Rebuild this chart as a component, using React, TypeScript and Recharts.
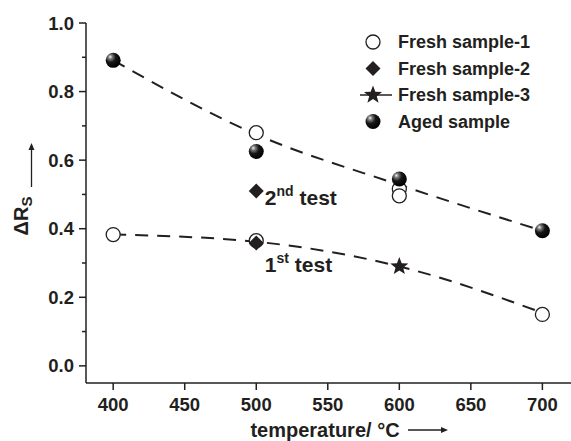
import React from 'react';
import { ComposedChart, Scatter, Line, XAxis, YAxis, Legend, ReferenceDot, Customized } from 'recharts';

// ---- data ----
const xTicks = [400, 450, 500, 550, 600, 650, 700];
const yTicks = [0, 0.1, 0.2, 0.3, 0.4, 0.5, 0.6, 0.7, 0.8, 0.9, 1.0];

const fresh1 = [
  { x: 400, y: 0.383 },
  { x: 500, y: 0.68 },
  { x: 500, y: 0.365 },
  { x: 600, y: 0.516 },
  { x: 600, y: 0.496 },
  { x: 700, y: 0.15 },
];
const fresh2 = [
  { x: 500, y: 0.51 },
  { x: 500, y: 0.358 },
];
const fresh3 = [{ x: 600, y: 0.29 }];
const aged = [
  { x: 400, y: 0.891 },
  { x: 500, y: 0.625 },
  { x: 600, y: 0.545 },
  { x: 700, y: 0.394 },
];
const trendAged = [
  { x: 400, y: 0.891 },
  { x: 500, y: 0.675 },
  { x: 600, y: 0.528 },
  { x: 700, y: 0.394 },
];
const trendFresh = [
  { x: 400, y: 0.383 },
  { x: 500, y: 0.362 },
  { x: 600, y: 0.29 },
  { x: 700, y: 0.155 },
];
const legendItems = ['Fresh sample-1', 'Fresh sample-2', 'Fresh sample-3', 'Aged sample'];
const annot2 = { x: 506, y: 0.47, main: '2', sup: 'nd', rest: ' test' };
const annot1 = { x: 506, y: 0.275, main: '1', sup: 'st', rest: ' test' };

const FONT = '"Liberation Sans", Arial, Helvetica, sans-serif';
const INK = '#231f20';

// ---- shapes ----
const OpenCircle = (p: any) => (
  <circle cx={p.cx} cy={p.cy} r={7} fill="#fff" stroke={INK} strokeWidth={1.3} />
);
const Diamond = (p: any) => {
  const { cx, cy } = p;
  const s = 7.5;
  return <polygon points={`${cx},${cy - s} ${cx + s},${cy} ${cx},${cy + s} ${cx - s},${cy}`} fill={INK} />;
};
const starPoints = (cx: number, cy: number, R: number, r: number) => {
  const pts: string[] = [];
  for (let i = 0; i < 10; i++) {
    const ang = -Math.PI / 2 + (i * Math.PI) / 5;
    const rad = i % 2 === 0 ? R : r;
    pts.push(`${cx + rad * Math.cos(ang)},${cy + rad * Math.sin(ang)}`);
  }
  return pts.join(' ');
};
const Star = (p: any) => <polygon points={starPoints(p.cx, p.cy, 9.5, 4)} fill={INK} />;
const SphereDefs = ({ id }: { id: string }) => (
  <defs>
    <radialGradient id={id} cx="35%" cy="32%" r="70%" fx="30%" fy="26%">
      <stop offset="0%" stopColor="#f4f4f4" />
      <stop offset="20%" stopColor="#7a7a7a" />
      <stop offset="50%" stopColor="#161616" />
      <stop offset="100%" stopColor="#000" />
    </radialGradient>
  </defs>
);
const Sphere = (p: any) => (
  <g>
    <SphereDefs id="sphGrad" />
    <circle cx={p.cx} cy={p.cy} r={7.5} fill="url(#sphGrad)" />
  </g>
);

// ---- ticks ----
const YTick = (props: any) => {
  const { x, y, payload } = props;
  const v = payload.value;
  const major = Math.round(v * 10) % 2 === 0;
  return (
    <g>
      <line x1={x} x2={x - (major ? 7 : 4)} y1={y} y2={y} stroke={INK} strokeWidth={1.5} />
      {major && (
        <text x={x - 12} y={y} textAnchor="end" dominantBaseline="central" fontFamily={FONT} fontWeight="bold" fontSize={18.5} fill={INK}>
          {v.toFixed(1)}
        </text>
      )}
    </g>
  );
};
const XTick = (props: any) => {
  const { x, y, payload } = props;
  return (
    <g>
      <line x1={x} x2={x} y1={y} y2={y + 7} stroke={INK} strokeWidth={1.5} />
      <text x={x} y={y + 21} textAnchor="middle" dominantBaseline="central" fontFamily={FONT} fontWeight="bold" fontSize={18.5} fill={INK}>
        {payload.value}
      </text>
    </g>
  );
};

// ---- legend ----
const LegendContent = () => {
  const ys = [14, 40.5, 67, 93.5];
  const sx = 18;
  return (
    <svg width={215} height={110} style={{ overflow: 'visible' }}>
      <SphereDefs id="sphGradLeg" />
      <circle cx={sx} cy={ys[0]} r={7} fill="#fff" stroke={INK} strokeWidth={1.3} />
      <Diamond cx={sx} cy={ys[1]} />
      <line x1={5} x2={37} y1={ys[2]} y2={ys[2]} stroke={INK} strokeWidth={1.5} />
      <Star cx={sx} cy={ys[2]} />
      <circle cx={sx} cy={ys[3]} r={7.5} fill="url(#sphGradLeg)" />
      {legendItems.map((t, i) => (
        <text key={t} x={43} y={ys[i]} dominantBaseline="central" fontFamily={FONT} fontWeight="bold" fontSize={18} fill={INK}>
          {t}
        </text>
      ))}
    </svg>
  );
};

// ---- annotations ----
const makeAnnot = (a: { main: string; sup: string; rest: string }) => (props: any) => {
  const vb = props.viewBox || {};
  const x = vb.x + (vb.width || 0) / 2;
  const y = vb.y + (vb.height || 0) / 2;
  return (
    <text x={x} y={y} fontFamily={FONT} fontWeight="bold" fontSize={21} fill={INK}>
      <tspan>{a.main}</tspan>
      <tspan dy={-9} fontSize={14}>{a.sup}</tspan>
      <tspan dy={9} fontSize={21}>{a.rest}</tspan>
    </text>
  );
};

// ---- axis titles ----
const Titles = () => (
  <g fontFamily={FONT} fontWeight="bold" fill={INK}>
    <g transform="translate(28,216) rotate(-90)">
      <text x={0} y={0} textAnchor="middle" fontSize={20}>
        <tspan>ΔR</tspan>
        <tspan dy={4} fontSize={15}>S</tspan>
      </text>
    </g>
    <line x1={31.5} x2={31.5} y1={187} y2={148} stroke={INK} strokeWidth={1.3} />
    <polygon points="31.5,143 28.5,150 34.5,150" fill={INK} />
    <text x={325} y={437} textAnchor="middle" fontSize={20}>
      temperature/ °C
    </text>
    <line x1={408} x2={443} y1={430} y2={430} stroke={INK} strokeWidth={1.3} />
    <polygon points="448,430 441,427 441,433" fill={INK} />
  </g>
);

export default function App() {
  return (
    <div style={{ position: 'absolute', left: 0, top: 0, width: 571, height: 441, background: '#fff' }}>
      <ComposedChart width={571} height={441} margin={{ top: 23, right: 0, bottom: 0, left: 0 }}>
        <XAxis
          dataKey="x"
          type="number"
          domain={[381, 720]}
          ticks={xTicks}
          allowDataOverflow
          height={58}
          tickSize={0}
          tickMargin={0}
          tickLine={false}
          tick={<XTick />}
          axisLine={{ stroke: INK, strokeWidth: 1.5 }}
        />
        <YAxis
          dataKey="y"
          type="number"
          domain={[-0.05, 1.0]}
          ticks={yTicks}
          allowDataOverflow
          width={86}
          tickSize={0}
          tickMargin={0}
          tickLine={false}
          tick={<YTick />}
          axisLine={{ stroke: INK, strokeWidth: 1.5 }}
        />
        <Scatter name="Fresh sample-1" data={fresh1} shape={OpenCircle} isAnimationActive={false} />
        <Scatter name="Fresh sample-2" data={fresh2} shape={Diamond} isAnimationActive={false} />
        <Scatter name="Fresh sample-3" data={fresh3} shape={Star} isAnimationActive={false} />
        <Scatter name="Aged sample" data={aged} shape={Sphere} isAnimationActive={false} />
        <Line data={trendAged} dataKey="y" type="monotone" stroke={INK} strokeWidth={2} strokeDasharray="13 9" dot={false} activeDot={false} legendType="none" isAnimationActive={false} />
        <Line data={trendFresh} dataKey="y" type="monotone" stroke={INK} strokeWidth={2} strokeDasharray="13 9" dot={false} activeDot={false} legendType="none" isAnimationActive={false} />
        <ReferenceDot x={annot2.x} y={annot2.y} r={1} fill="none" stroke="none" label={makeAnnot(annot2)} />
        <ReferenceDot x={annot1.x} y={annot1.y} r={1} fill="none" stroke="none" label={makeAnnot(annot1)} />
        <Legend
          layout="horizontal"
          verticalAlign="middle"
          align="center"
          content={LegendContent}
          wrapperStyle={{ position: 'absolute', left: 355, top: 28, width: 215, height: 110 }}
        />
        <Customized component={Titles} />
      </ComposedChart>
    </div>
  );
}
